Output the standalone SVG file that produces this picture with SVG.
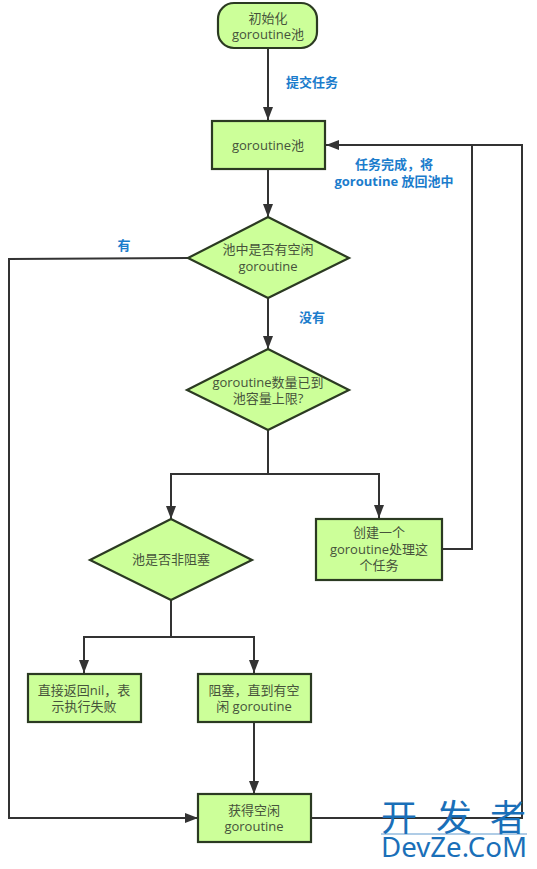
<svg xmlns="http://www.w3.org/2000/svg" width="537" height="869" viewBox="0 0 537 869">
<style>
.n{fill:#ccff99;stroke:#2b3a22;stroke-width:2.2}
.t{font:13px "Open Sans","Noto Sans CJK SC",sans-serif;fill:#46533b;text-anchor:middle}
.l{font:bold 13px "Open Sans","Noto Sans CJK SC",sans-serif;fill:#1b7ccc;text-anchor:middle}
.c{fill:none;stroke:#333;stroke-width:2}
.wm{font-family:"Noto Sans","Noto Sans CJK SC",sans-serif;fill:#1a6fb8}
</style>
<defs><marker id="a" markerUnits="userSpaceOnUse" markerWidth="14" markerHeight="12" refX="13" refY="5" orient="auto"><path d="M0 0L13 5L0 10L0 5Z" fill="#333"/></marker></defs>
<rect width="537" height="869" fill="#fff"/>
<g id="connectors">
<path class="c" d="M268 48V120" marker-end="url(#a)"/>
<path class="c" d="M268 169V217" marker-end="url(#a)"/>
<path class="c" d="M268 298V349" marker-end="url(#a)"/>
<path class="c" d="M188 258L9 259V818H198" marker-end="url(#a)"/>
<path class="c" d="M268 430V474H171V519" marker-end="url(#a)"/>
<path class="c" d="M268 474H379V518" marker-end="url(#a)"/>
<path class="c" d="M442 549H472V145H326" marker-end="url(#a)"/>
<path class="c" d="M171 600V637H84V673" marker-end="url(#a)"/>
<path class="c" d="M171 637H254V673" marker-end="url(#a)"/>
<path class="c" d="M254 722V794" marker-end="url(#a)"/>
<path class="c" d="M311 818H522V145H472"/>
</g>
<g id="start"><rect class="n" x="218" y="3" width="99" height="45" rx="16"/><text class="t"><tspan x="268" y="23">初始化</tspan><tspan x="268" y="39">goroutine池</tspan></text></g>
<g id="pool"><rect class="n" x="212" y="121" width="113" height="48"/><text class="t" x="268" y="150">goroutine池</text></g>
<g id="d1"><path class="n" d="M268 217L349 258L268 298L188 258Z"/><text class="t"><tspan x="268" y="254">池中是否有空闲</tspan><tspan x="268" y="271">goroutine</tspan></text></g>
<g id="d2"><path class="n" d="M268 349L349 390L268 430L187 390Z"/><text class="t"><tspan x="268" y="387">goroutine数量已到</tspan><tspan x="268" y="403">池容量上限?</tspan></text></g>
<g id="d3"><path class="n" d="M171 519L252 560L171 600L90 560Z"/><text class="t" x="171" y="564">池是否非阻塞</text></g>
<g id="create"><rect class="n" x="316" y="519" width="126" height="61"/><text class="t"><tspan x="379" y="537">创建一个</tspan><tspan x="379" y="554">goroutine处理这</tspan><tspan x="379" y="570">个任务</tspan></text></g>
<g id="fail"><rect class="n" x="28" y="674" width="113" height="48"/><text class="t"><tspan x="84" y="695">直接返回nil，表</tspan><tspan x="84" y="711">示执行失败</tspan></text></g>
<g id="block"><rect class="n" x="198" y="674" width="113" height="48"/><text class="t"><tspan x="254" y="695">阻塞，直到有空</tspan><tspan x="254" y="711">闲 goroutine</tspan></text></g>
<g id="get"><rect class="n" x="198" y="794" width="113" height="48"/><text class="t"><tspan x="254" y="815">获得空闲</tspan><tspan x="254" y="831">goroutine</tspan></text></g>
<g id="labels">
<text class="l" x="312" y="87">提交任务</text>
<text class="l"><tspan x="394" y="169">任务完成，将</tspan><tspan x="394" y="186">goroutine 放回池中</tspan></text>
<text class="l" x="124" y="250">有</text>
<text class="l" x="312" y="322">没有</text>
</g>
<g id="watermark">
<path d="M381 834H527" stroke="#1a6fb8" stroke-width="0.7"/>
<text class="wm"><tspan x="381 436 490" y="831" font-size="36">开发者</tspan><tspan x="381" y="857" font-size="28" textLength="146" lengthAdjust="spacingAndGlyphs">DevZe.CoM</tspan></text>
</g>
</svg>
